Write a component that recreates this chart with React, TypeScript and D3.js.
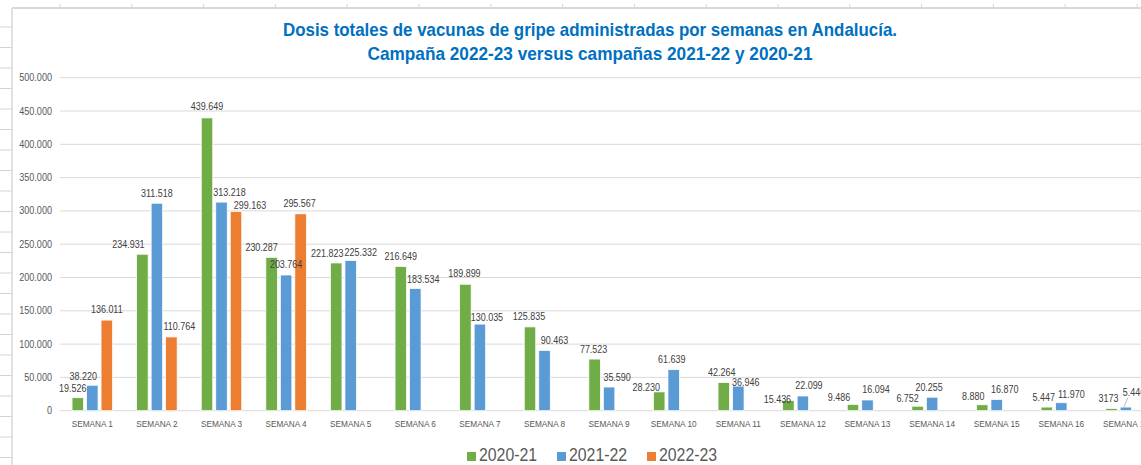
import React from "react";
import * as d3 from "d3";

// datos (dosis por semana)
const semanas = [
  "SEMANA 1", "SEMANA 2", "SEMANA 3", "SEMANA 4", "SEMANA 5", "SEMANA 6",
  "SEMANA 7", "SEMANA 8", "SEMANA 9", "SEMANA 10", "SEMANA 11", "SEMANA 12",
  "SEMANA 13", "SEMANA 14", "SEMANA 15", "SEMANA 16", "SEMANA 17",
];
const campanas = ["2020-21", "2021-22", "2022-23"];
const dosis2020 = [19526, 234931, 439649, 230287, 221823, 216649, 189899, 125835, 77523, 28230, 42264, 15436, 9486, 6752, 8880, 5447, 3173];
const dosis2021 = [38220, 311518, 313218, 203764, 225332, 183534, 130035, 90463, 35590, 61639, 36946, 22099, 16094, 20255, 16870, 11970, 5446];
const dosis2022 = [136011, 110764, 299163, 295567];
const yTicks = [0, 50000, 100000, 150000, 200000, 250000, 300000, 350000, 400000, 450000, 500000];
const titulo = [
  "Dosis totales de vacunas de gripe administradas por semanas en Andalucía.",
  "Campaña 2022-23 versus campañas 2021-22 y 2020-21",
];

// ajustes manuales de etiquetas (como en el excel), [dx, dy] por serie
const nudges = [
  [[-5, 1], [-14, 0], [0, -1], [-10, 0], [-9, 1], [0, 0], [-1, -1], [-1, 0], [-1, 0], [-13, 5.5], [-2, -0.5], [-11, 9], [-14, 3], [-10, 1.8], [-9, 2], [-3, 0], [-3, -0.5]],
  [[-9, 1], [0, 0], [8, 0], [0, 0], [10, 2], [8, 1], [7, 3], [10, 0], [8, 0.5], [-2, 0], [7.5, 6], [6, -0.7], [8.5, -0.5], [-3, 0.5], [8, 0.5], [10, 2], [8, -5]],
  [[0, -1], [8, 0], [14, 4], [-1, 0]],
];

const colors = ["#70AD47", "#5B9BD5", "#ED7D31"];
const FONT = '"Liberation Sans", Arial, sans-serif';
const W = 1141;
const H = 465;

const es = d3.formatLocale({ decimal: ",", thousands: ".", grouping: [3], currency: ["", "€"] });
const fmt = es.format(",d");

// texto algo estrechado para parecerse a Calibri
function T({ x, y, sx = 0.88, size, fill, anchor = "middle", children }: any) {
  return (
    <text transform={`translate(${x},${y}) scale(${sx},1)`} textAnchor={anchor} fontSize={size} fill={fill}>
      {children}
    </text>
  );
}

export default function App() {
  const series = [dosis2020, dosis2021, dosis2022];

  const x0 = d3.scaleBand<string>().domain(semanas).range([60, 60 + 17 * 64.6]).paddingInner(0).paddingOuter(0);
  const x1 = d3.scaleBand<string>().domain(campanas).range([-20.25, 20.25]).paddingInner(0.207);
  const y = d3.scaleLinear().domain([0, 500000]).range([410.7, 77.7]);

  const center = (c: string) => (x0(c) as number) + x0.bandwidth() / 2;

  // lineas de la hoja de calculo alrededor del grafico
  const rowLines = d3.range(27, H, 20.5);
  const colTicks = d3.range(60, W, 71.8);

  return (
    <svg width={W} height={H} style={{ position: "absolute", left: 0, top: 0, background: "#fff" }} fontFamily={FONT}>
      {rowLines.map((ry, i) => (
        <line key={"r" + i} x1={0} x2={12} y1={ry} y2={ry} stroke="#d4d4d4" />
      ))}
      {colTicks.map((cx, i) => (
        <line key={"c" + i} x1={cx} x2={cx} y1={4} y2={7} stroke="#d4d4d4" />
      ))}
      <line x1={12} x2={W} y1={8} y2={8} stroke="#d9d9d9" strokeWidth={2} />
      <line x1={12} x2={12} y1={8} y2={H} stroke="#d9d9d9" strokeWidth={1.5} />

      {titulo.map((t, i) => (
        <text
          key={t}
          x={590}
          y={36 + i * 24}
          textAnchor="middle"
          fontWeight="bold"
          fontSize={18.5}
          fill="#0070C0"
          textLength={i === 0 ? 614 : 445}
          lengthAdjust="spacingAndGlyphs"
        >
          {t}
        </text>
      ))}

      {yTicks.map((t) => (
        <g key={t}>
          <line x1={60} x2={W} y1={y(t)} y2={y(t)} stroke="#d9d9d9" />
          <T x={52} y={y(t) + 3.5} sx={0.91} size={10} fill="#595959" anchor="end">
            {t === 0 ? "0" : fmt(t)}
          </T>
        </g>
      ))}

      {series.map((vals, s) =>
        vals.map((v, i) => {
          const cx = center(semanas[i]) + (x1(campanas[s]) as number);
          return (
            <rect
              key={s + "-" + i}
              x={cx}
              y={y(v)}
              width={x1.bandwidth()}
              height={y(0) - y(v)}
              fill={colors[s]}
              stroke="#fff"
              strokeWidth={0.75}
            />
          );
        })
      )}

      {series.map((vals, s) =>
        vals.map((v, i) => {
          const bx = center(semanas[i]) + (x1(campanas[s]) as number) + x1.bandwidth() / 2;
          const [dx, dy] = nudges[s][i];
          const lx = bx + dx;
          const ly = y(v) - 6.5 + dy;
          // en el original la semana 17 de 2020-21 sale sin separador
          const label = s === 0 && i === 16 ? String(v) : fmt(v);
          const leader = s === 1 && i === 16;
          return (
            <g key={"l" + s + "-" + i}>
              {leader && <line x1={lx - 6} y1={ly + 2} x2={bx - 2} y2={y(v)} stroke="#a6a6a6" strokeWidth={0.75} />}
              <T x={lx} y={ly} sx={0.88} size={10.2} fill="#404040">
                {label}
              </T>
            </g>
          );
        })
      )}

      {semanas.map((c) => (
        <T key={c} x={center(c)} y={427} sx={0.86} size={9.6} fill="#595959">
          {c}
        </T>
      ))}

      {campanas.map((c, i) => (
        <g key={c} transform={`translate(${467 + i * 90},0)`}>
          <rect x={0} y={452} width={9} height={9} fill={colors[i]} />
          <T x={12} y={461} sx={0.88} size={18} fill="#595959" anchor="start">
            {c}
          </T>
        </g>
      ))}
    </svg>
  );
}
